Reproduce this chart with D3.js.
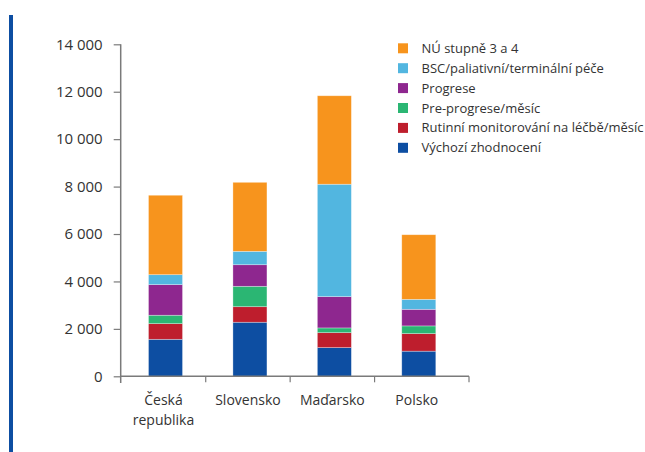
<!DOCTYPE html>
<html>
<head>
<meta charset="utf-8">
<script src="https://cdn.jsdelivr.net/npm/d3@7"></script>
<style>
  html, body { margin: 0; padding: 0; background: #fff; }
  svg { display: block; font-family: "Open Sans", sans-serif; }
</style>
</head>
<body>
<svg id="chart" width="645" height="452"></svg>
<script>
// Countries along the x axis
const categories = ["Česká republika", "Slovensko", "Maďarsko", "Polsko"];

// Cost components, stacked bottom to top
const seriesNames = [
  "Výchozí zhodnocení",
  "Rutinní monitorování na léčbě/měsíc",
  "Pre-progrese/měsíc",
  "Progrese",
  "BSC/paliativní/terminální péče",
  "NÚ stupně 3 a 4"
];
const seriesColors = ["#0d4ea2", "#be1e2d", "#2bb673", "#8e278f", "#52b6e0", "#f7941d"];

// One array per component, in category order
const vychozi   = [1560, 2280, 1210, 1060];
const rutinni   = [660,  655,  630,  740];
const preProg   = [355,  860,  200,  325];
const progrese  = [1290, 910,  1320, 700];
const bsc       = [420,  565,  4740, 420];
const nu        = [3350, 2910, 3730, 2725];

const yTicks = [0, 2000, 4000, 6000, 8000, 10000, 12000, 14000];

const seriesValues = [vychozi, rutinni, preProg, progrese, bsc, nu];

const rows = categories.map((c, i) => {
  const r = { category: c };
  seriesNames.forEach((s, k) => { r[s] = seriesValues[k][i]; });
  return r;
});

const svg = d3.select("#chart");

// Decorative vertical rule on the left edge
svg.append("rect").attr("x", 9).attr("y", 15).attr("width", 4).attr("height", 437).attr("fill", "#0d4ea2");

const y = d3.scaleLinear().domain([0, 14000]).range([376.3, 44.3]);
const x = d3.scaleBand().domain(categories).range([123.3, 461]).paddingInner(0.597).paddingOuter(0.2985);

const stack = d3.stack().keys(seriesNames)(rows);
const color = d3.scaleOrdinal().domain(seriesNames).range(seriesColors);

// Stacked bars
svg.append("g").selectAll("g")
  .data(stack).join("g")
  .attr("fill", d => color(d.key))
  .selectAll("rect")
  .data(d => d).join("rect")
  .attr("x", d => x(d.data.category))
  .attr("width", x.bandwidth())
  .attr("y", d => y(d[1]))
  .attr("height", d => y(d[0]) - y(d[1]))
  .attr("stroke", "rgba(255,255,255,0.45)")
  .attr("stroke-width", 0.7);

const axisColor = "#7a7a7a";

// Y axis
const yAxis = svg.append("g").attr("transform", "translate(120.7,0)")
  .call(d3.axisLeft(y).tickValues(yTicks).tickSize(7).tickPadding(11)
    .tickFormat(d => d3.format(",")(d).replace(/,/g, " ")));
yAxis.select(".domain").remove();
yAxis.selectAll(".tick line").attr("stroke", axisColor).attr("stroke-width", 1.2);
yAxis.selectAll(".tick text").attr("fill", "#333").style("font-size", "15px").style("font-family", "Open Sans, sans-serif");
svg.append("line").attr("x1", 120.7).attr("x2", 120.7).attr("y1", y(14000)).attr("y2", 383)
  .attr("stroke", axisColor).attr("stroke-width", 1.5);

// X axis baseline with ticks at category boundaries
const x0 = 120.7, x1 = 469;
svg.append("line").attr("x1", x0).attr("x2", x1).attr("y1", y(0)).attr("y2", y(0))
  .attr("stroke", axisColor).attr("stroke-width", 1.5);
const step = x.step();
const bounds = categories.slice(1).map(c => x(c) - step * x.paddingInner() / 2 - 2).concat([x1]);
svg.append("g").selectAll("line").data(bounds).join("line")
  .attr("x1", d => d).attr("x2", d => d)
  .attr("y1", y(0)).attr("y2", y(0) + 6)
  .attr("stroke", axisColor).attr("stroke-width", 1.2);

// Category labels
const labelLines = { "Česká republika": ["Česká", "republika"] };
const xl = svg.append("g").selectAll("text").data(categories).join("text")
  .attr("x", d => x(d) + x.bandwidth() / 2 - 2)
  .attr("y", 405)
  .attr("text-anchor", "middle")
  .attr("fill", "#333")
  .style("font-size", "14px");
xl.each(function(d) {
  const lines = labelLines[d] || [d];
  d3.select(this).selectAll("tspan").data(lines).join("tspan")
    .attr("x", x(d) + x.bandwidth() / 2 - 2)
    .attr("dy", (l, i) => i === 0 ? 0 : 19.5)
    .text(l => l);
});

// Legend, top entry is the top of the stack
const legendItems = seriesNames.slice().reverse();
const lg = svg.append("g").selectAll("g").data(legendItems).join("g")
  .attr("transform", (d, i) => `translate(398,${48.3 + i * 19.9})`);
lg.append("rect").attr("x", 0).attr("y", -5).attr("width", 10).attr("height", 10).attr("fill", d => color(d));
lg.append("text").attr("x", 23.5).attr("y", 4.5).attr("fill", "#333")
  .style("font-size", "13px").text(d => d);
</script>
</body>
</html>
